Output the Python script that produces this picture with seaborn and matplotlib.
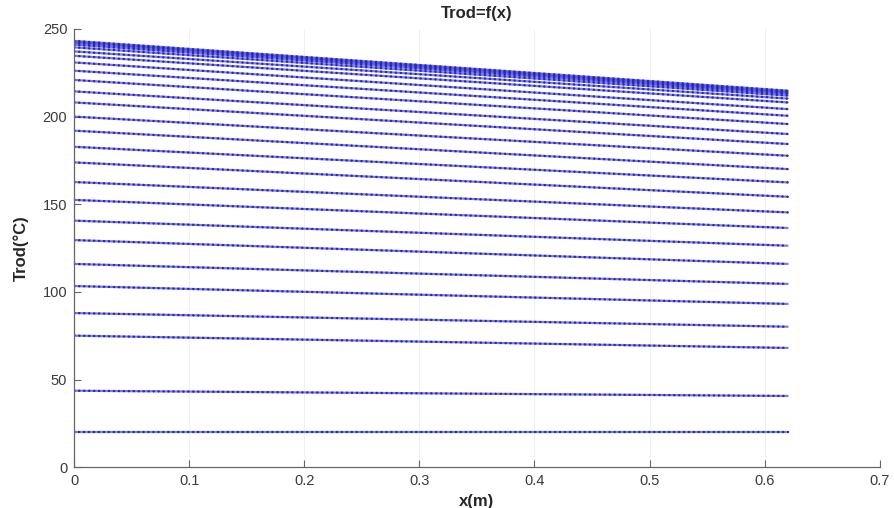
import numpy as np
import pandas as pd
import matplotlib
matplotlib.use("Agg")
import matplotlib.pyplot as plt
import seaborn as sns

# Rod temperature profiles, one per time step: value at the heated end (x = 0)
# and at the far end of the rod (x = 0.62 m)
x_positions = [0.0, 0.62]
temp_at_start = [20.0, 43.7, 75.1, 88.0, 103.4, 116.0, 129.6, 140.7, 152.5, 162.7,
                 173.9, 182.8, 192.0, 200.0, 208.1, 214.4, 220.9, 226.2, 230.9, 234.7,
                 237.2, 239.5, 241.0, 242.0, 242.7, 243.2]
temp_at_end = [20.0, 40.7, 68.1, 80.2, 93.2, 104.6, 116.0, 126.4, 136.5, 145.4,
               154.3, 162.5, 170.1, 177.7, 184.4, 190.1, 195.8, 200.5, 204.3, 208.1,
               210.3, 212.0, 213.0, 213.7, 214.3, 214.8]
x_ticks = [0, 0.1, 0.2, 0.3, 0.4, 0.5, 0.6, 0.7]
y_ticks = [0, 50, 100, 150, 200, 250]

rows = []
for i, (t0, t1) in enumerate(zip(temp_at_start, temp_at_end)):
    rows.append({"curve": i, "x": x_positions[0], "T": t0})
    rows.append({"curve": i, "x": x_positions[1], "T": t1})
df = pd.DataFrame(rows)

sns.set_style("ticks")
plt.rcParams["font.family"] = ["Liberation Sans", "DejaVu Sans"]

fig = plt.figure(figsize=(8.94, 5.08), dpi=100)
ax = fig.add_axes([0.083, 0.080, 0.901, 0.863])

# thin connecting line for each profile
sns.lineplot(data=df, x="x", y="T", units="curve", estimator=None,
             color="#4d4dff", lw=1.6, alpha=0.75, ax=ax, legend=False)
# dotted overlay imitating the sample markers along each profile
sns.lineplot(data=df, x="x", y="T", units="curve", estimator=None,
             color="#2b2b9a", lw=1.7, linestyle=(0, (0.1, 2.0)),
             dash_capstyle="round", ax=ax, legend=False)

ax.set_xlim(0, 0.7)
ax.set_ylim(0, 250)
ax.set_xticks(x_ticks)
ax.set_xticklabels([f"{v:g}" for v in x_ticks])
ax.set_yticks(y_ticks)
ax.set_yticklabels([str(v) for v in y_ticks])

ax.xaxis.grid(True, color="#f0f0f0", lw=0.8)
ax.yaxis.grid(False)

for side in ("top", "right"):
    ax.spines[side].set_visible(False)
for side in ("left", "bottom"):
    ax.spines[side].set_color("#666666")
    ax.spines[side].set_linewidth(0.9)

ax.tick_params(direction="in", length=5, width=0.8, color="#666666",
               labelsize=10.5, labelcolor="#3a3a3a", pad=5)

ax.set_title("Trod=f(x)", fontsize=12, fontweight="bold", pad=8)
ax.set_xlabel("x(m)", fontsize=12, fontweight="bold", labelpad=4)
ax.set_ylabel("Trod(°C)", fontsize=12, fontweight="bold", labelpad=10)

fig.savefig("out.png", dpi=100)
